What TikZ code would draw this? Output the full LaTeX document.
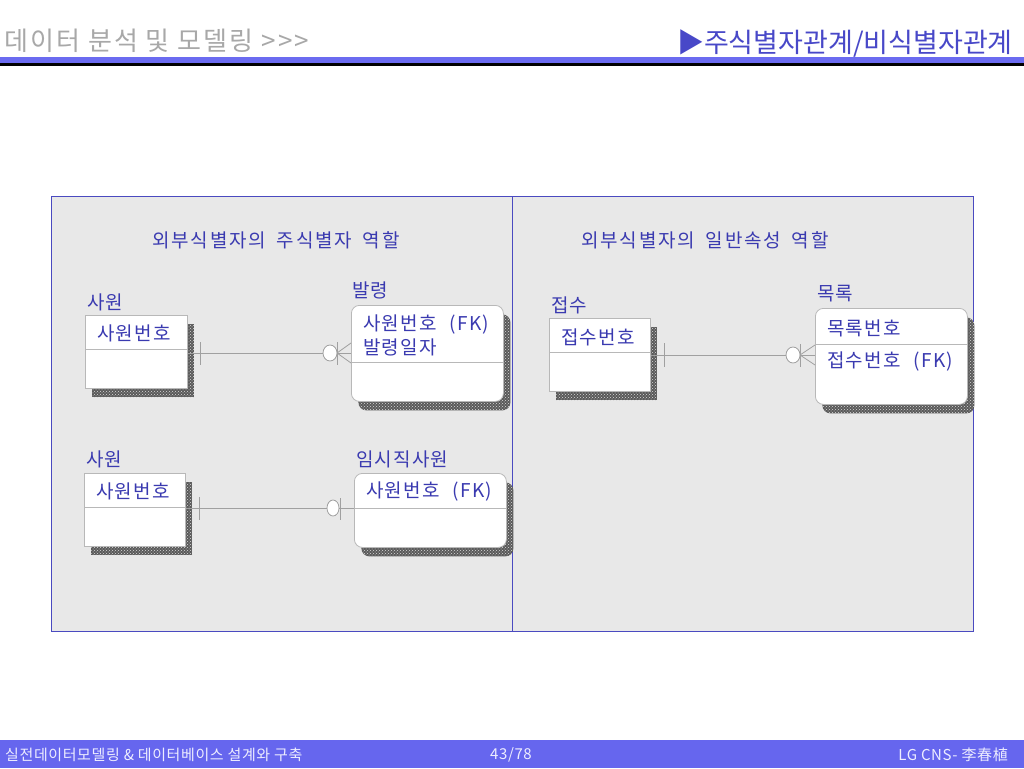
\documentclass[tikz,border=0pt]{standalone}
\usepackage{fontspec}
\setmainfont{Noto Sans CJK KR}
\newfontfamily\entf[LetterSpace=6]{Noto Sans CJK KR}
\newfontfamily\secf[LetterSpace=9]{Noto Sans CJK KR}
\newfontfamily\hdrf[LetterSpace=8]{Noto Sans CJK KR}
\newfontfamily\footf[LetterSpace=4]{Noto Sans CJK KR}
\usetikzlibrary{patterns,calc,shadows}
\definecolor{txtblue}{HTML}{3A3AB0}
\definecolor{frameblue}{HTML}{4A4AC0}
\definecolor{panel}{HTML}{E8E8E8}
\definecolor{hdrblue}{HTML}{6B6BF0}
\definecolor{hdrtitle}{HTML}{4848C8}
\definecolor{footblue}{HTML}{6666EE}
\definecolor{foottxt}{HTML}{EDEDFF}
\definecolor{hdrgray}{HTML}{A8A8A8}
\definecolor{linegray}{HTML}{A0A0A0}
\definecolor{boxgray}{HTML}{B8B8B8}
\definecolor{shadowdark}{HTML}{5A5A5A}
\begin{document}
\begin{tikzpicture}[x=1pt,y=-1pt,
  ent/.style={draw=boxgray, fill=white, line width=0.8pt, anchor=north west, inner sep=0pt,
    drop shadow={shadow xshift=7pt, shadow yshift=-9pt, fill=shadowdark, opacity=1},
    general shadow={shadow xshift=7pt, shadow yshift=-9pt, pattern=crosshatch dots, pattern color=gray!30}},
  rent/.style={ent, rounded corners=8pt},
  sep/.style={draw=boxgray, line width=0.8pt},
  conn/.style={draw=linegray, line width=0.8pt},
  etxt/.style={anchor=west, text=txtblue, inner sep=0pt, font=\entf\fontsize{19}{21}\selectfont},
  elbl/.style={anchor=west, text=txtblue, inner sep=0pt, font=\entf\fontsize{19}{21}\selectfont},
  sectitle/.style={text=txtblue, inner sep=0pt, font=\secf\fontsize{19}{21}\selectfont},
  foot/.style={text=foottxt, inner sep=0pt, font=\footf\fontsize{15}{17}\selectfont},
  ring/.style={draw=linegray, fill=white, line width=0.8pt}
]
\useasboundingbox (0,0) rectangle (1024,768);
\fill[white] (0,0) rectangle (1024,768);

% header
\node[anchor=west, text=hdrgray, inner sep=0pt, font=\hdrf\fontsize{26}{29}\selectfont] (ttl) at (4,41) {데이터 분석 및 모델링 {>}{>}{>}};
\node[anchor=east, text=hdrtitle, inner sep=0pt, font=\fontsize{27}{30}\selectfont] (ttr) at (1013,43) {▶주식별자관계/비식별자관계};
\fill[hdrblue] (0,57) rectangle (1024,62.5);
\fill[black] (0,63) rectangle (1024,66);

% panel
\draw[frameblue, fill=panel, line width=1pt] (51,196) rectangle (973,631);
\draw[frameblue, line width=1pt] (512,196) -- (512,631);

\node[sectitle] (st1) at (276,240) {외부식별자의\hspace{5pt} 주식별자\hspace{5pt} 역할};
\node[sectitle] (st2) at (705,240) {외부식별자의\hspace{5pt} 일반속성\hspace{5pt} 역할};

% --- row 1 left: 사원 -> 발령
\node[ent, minimum width=102pt, minimum height=73pt] (s1) at (85,315) {};
\draw[sep] (s1.west |- 0,349) -- (s1.east |- 0,349);
\node[elbl] (s1l) at (87,302) {사원};
\node[etxt] (s1t) at (97,333) {사원번호};

\node[rent, minimum width=152pt, minimum height=96pt] (b1) at (351,305) {};
\draw[sep] (b1.west |- 0,362) -- (b1.east |- 0,362);
\node[elbl] (b1l) at (352,290) {발령};
\node[etxt] (b1t1) at (363,325) {사원번호\hspace{8pt} (FK)};
\node[etxt] (b1t2) at (363,347) {발령일자};

\draw[conn] (s1.east |- 0,353) -- (b1.west |- 0,353);
\draw[conn] ($(s1.east |- 0,353)+(13,-11)$) -- ($(s1.east |- 0,353)+(13,12)$);
\draw[ring] ($(b1.west |- 0,353)+(-21,0)$) ellipse [x radius=7, y radius=8];
\draw[conn] ($(b1.west |- 0,353)+(-14,-11)$) -- ($(b1.west |- 0,353)+(-14,12)$);
\draw[conn] ($(b1.west |- 0,353)+(-14,0)$) -- ($(b1.west |- 0,353)+(0,-10)$);
\draw[conn] ($(b1.west |- 0,353)+(-14,0)$) -- ($(b1.west |- 0,353)+(0,10)$);

% --- row 2 left: 사원 -> 임시직사원
\node[ent, minimum width=101pt, minimum height=73pt] (s2) at (84,473) {};
\draw[sep] (s2.west |- 0,507) -- (s2.east |- 0,507);
\node[elbl] (s2l) at (86,459) {사원};
\node[etxt] (s2t) at (96,491) {사원번호};

\node[rent, minimum width=152pt, minimum height=74pt] (b2) at (354,473) {};
\draw[sep] (b2.west |- 0,508) -- (b2.east |- 0,508);
\node[elbl] (b2l) at (356,459) {임시직사원};
\node[etxt] (b2t) at (366,491) {사원번호\hspace{8pt} (FK)};

\draw[conn] (s2.east |- 0,508) -- (b2.west |- 0,508);
\draw[conn] ($(s2.east |- 0,508)+(14,-11)$) -- ($(s2.east |- 0,508)+(14,12)$);
\draw[ring] ($(b2.west |- 0,508)+(-21,0)$) ellipse [x radius=6, y radius=8];
\draw[conn] ($(b2.west |- 0,508)+(-14,-10)$) -- ($(b2.west |- 0,508)+(-14,12)$);

% --- row 1 right: 접수 -> 목록
\node[ent, minimum width=101pt, minimum height=73pt] (s3) at (549,318) {};
\draw[sep] (s3.west |- 0,352) -- (s3.east |- 0,352);
\node[elbl] (s3l) at (551,305) {접수};
\node[etxt] (s3t) at (561,337) {접수번호};

\node[rent, minimum width=152pt, minimum height=96pt] (b3) at (815,308) {};
\draw[sep] (b3.west |- 0,344) -- (b3.east |- 0,344);
\node[elbl] (b3l) at (817,294) {목록};
\node[etxt] (b3t1) at (827,328) {목록번호};
\node[etxt] (b3t2) at (827,362) {접수번호\hspace{8pt} (FK)};

\draw[conn] (s3.east |- 0,355) -- (b3.west |- 0,355);
\draw[conn] ($(s3.east |- 0,355)+(14,-12)$) -- ($(s3.east |- 0,355)+(14,12)$);
\draw[ring] ($(b3.west |- 0,355)+(-22,0)$) ellipse [x radius=7, y radius=8];
\draw[conn] ($(b3.west |- 0,355)+(-15,-11)$) -- ($(b3.west |- 0,355)+(-15,12)$);
\draw[conn] ($(b3.west |- 0,355)+(-15,0)$) -- ($(b3.west |- 0,355)+(0,-10)$);
\draw[conn] ($(b3.west |- 0,355)+(-15,0)$) -- ($(b3.west |- 0,355)+(0,10)$);

% footer
\fill[footblue] (0,740) rectangle (1024,768);
\node[foot, anchor=west] (f1) at (5,755) {실전데이터모델링 \& 데이터베이스 설계와 구축};
\node[foot] (f2) at (511,755) {43/78};
\node[foot, anchor=east] (f3) at (1008,755) {LG CNS- 李春植};
\end{tikzpicture}
\end{document}
